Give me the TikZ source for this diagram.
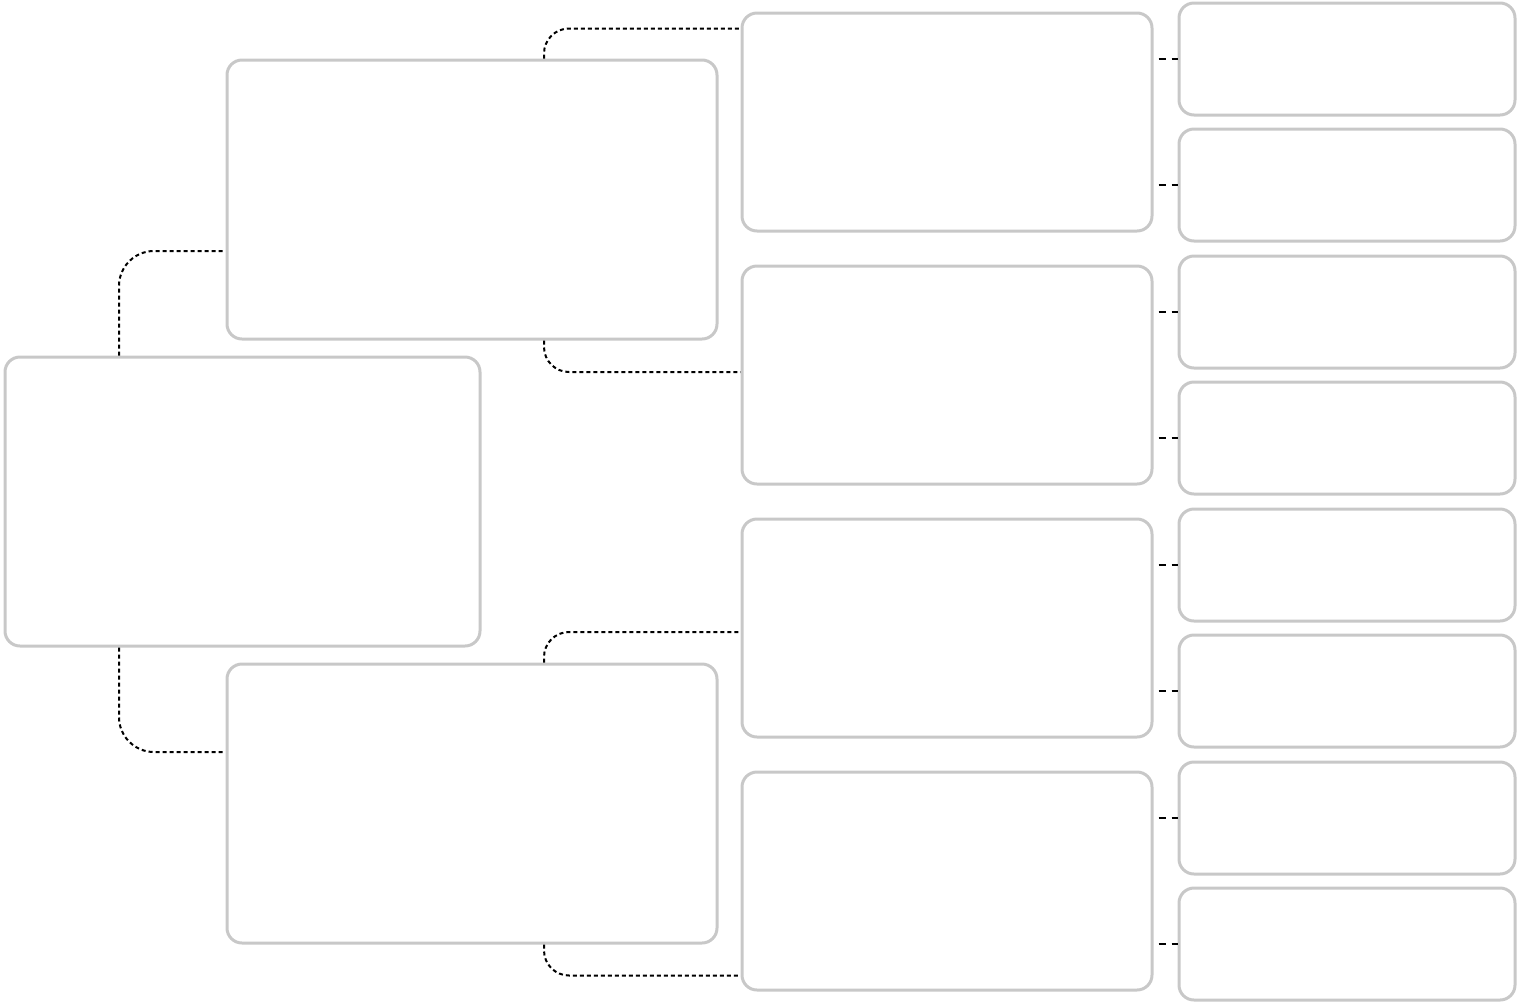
\documentclass[tikz,border=0pt]{standalone}
\usepackage{tikz}
\usetikzlibrary{positioning,calc}
\definecolor{boxgray}{HTML}{C8C8C8}
\tikzset{
  % --- empty rounded boxes ---
  cell/.style={draw=boxgray, line width=0.06cm, rounded corners=0.3cm,
               fill=white, inner sep=0pt},
  rootcell/.style={cell, minimum width=9.5cm, minimum height=5.78cm},
  midcell/.style={cell, minimum width=9.8cm, minimum height=5.58cm},
  subcell/.style={cell, minimum width=8.2cm, minimum height=4.36cm},
  leafcell/.style={cell, minimum width=6.72cm, minimum height=2.24cm},
  % --- connectors ---
  link/.style={draw=black, line width=0.04cm, dash pattern=on 0.08cm off 0.06cm},
  stub/.style={draw=black, line width=0.04cm,
               dash pattern=on 0.14cm off 0.12cm, dash phase=0.16cm},
}

\begin{document}
\begin{tikzpicture}
  \useasboundingbox (0,0) rectangle (30.36,-20.08);

  % --- root block ---
  \node[rootcell] (root) at (4.85,-10.03) {};

  % --- second level ---
  \node[midcell] (upper) at (9.44,-3.99) {};
  \node[midcell] (lower) at (9.44,-16.07) {};

  % --- third level ---
  \node[subcell] (s1) at (18.94,-2.44) {};
  \node[subcell] (s2) at (18.94,-7.50) {};
  \node[subcell] (s3) at (18.94,-12.56) {};
  \node[subcell] (s4) at (18.94,-17.62) {};

  % --- leaves, two per third-level block ---
  \node[leafcell] (t1) at (26.94,-1.18) {};
  \node[leafcell] (t2) at (26.94,-3.70) {};
  \node[leafcell] (t3) at (26.94,-6.24) {};
  \node[leafcell] (t4) at (26.94,-8.76) {};
  \node[leafcell] (t5) at (26.94,-11.30) {};
  \node[leafcell] (t6) at (26.94,-13.82) {};
  \node[leafcell] (t7) at (26.94,-16.36) {};
  \node[leafcell] (t8) at (26.94,-18.88) {};

  % --- root -> second level ---
  \draw[link, rounded corners=0.7cm]
        ([xshift=-2.47cm]root.north) |- ([yshift=-1.03cm]upper.west);
  \draw[link, rounded corners=0.7cm]
        ([xshift=-2.47cm]root.south) |- ([yshift=1.03cm]lower.west);

  % --- second level -> third level ---
  \draw[link, rounded corners=0.5cm]
        ([xshift=1.44cm]upper.north) |- ([yshift=-0.34cm]s1.north west);
  \draw[link, rounded corners=0.5cm]
        ([xshift=1.44cm]upper.south) |- ([yshift=0.06cm]s2.west);
  \draw[link, rounded corners=0.5cm]
        ([xshift=1.44cm]lower.north) |- ([yshift=-0.08cm]s3.west);
  \draw[link, rounded corners=0.5cm]
        ([xshift=1.44cm]lower.south) |- ([yshift=0.32cm]s4.south west);

  % --- third level -> leaves (short stubs) ---
  \foreach \s/\a/\b in {s1/t1/t2, s2/t3/t4, s3/t5/t6, s4/t7/t8} {
    \draw[stub] (\s.east |- \a) -- (\a.west);
    \draw[stub] (\s.east |- \b) -- (\b.west);
  }
\end{tikzpicture}
\end{document}
